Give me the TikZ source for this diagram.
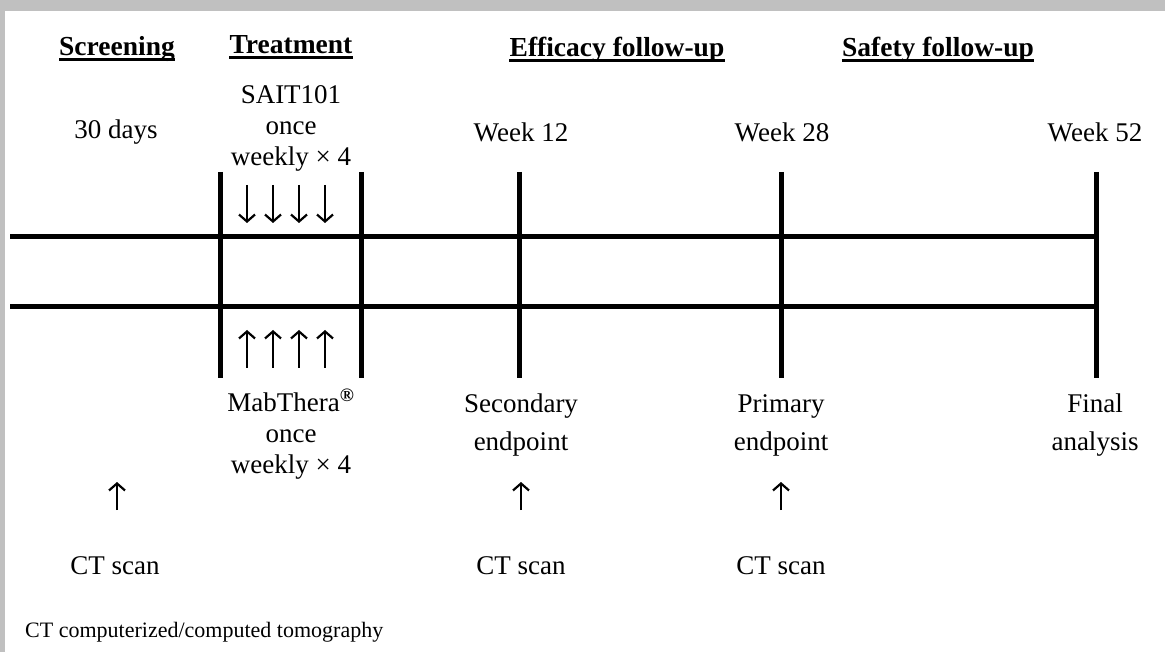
\documentclass[tikz,border=0pt]{standalone}
\usepackage{fontspec}
\setmainfont{Liberation Serif}
\usetikzlibrary{arrows.meta}
\definecolor{frame}{RGB}{192,192,192}
\begin{document}
\begin{tikzpicture}[x=1pt,y=-1pt,
  txt/.style={font=\fontsize{27}{31}\selectfont, inner sep=0pt, align=center, anchor=base},
  wide/.style={font=\fontsize{27}{38}\selectfont},
  head/.style={font=\fontsize{27.5}{31}\selectfont\bfseries, inner sep=0pt, anchor=base},
  foot/.style={font=\fontsize{22}{26}\selectfont, inner sep=0pt, anchor=base west},
  bar/.style={line width=5pt},
  uline/.style={line width=2.2pt},
  glyph/.style={line width=1.3pt, -{Straight Barb[length=7pt,width=16pt,line width=2.2pt]}},
]
\fill[white] (0,0) rectangle (1165,652);
\fill[frame] (0,0) rectangle (1165,11);
\fill[frame] (0,0) rectangle (5,652);
\useasboundingbox (0,0) rectangle (1165,652);

% headings
\node[head] (hs) at (117,56) {Screening};
\node[head] (ht) at (291,54) {Treatment};
\node[head] (he) at (617,57) {Efficacy follow-up};
\node[head] (hf) at (938,57) {Safety follow-up};
\foreach \h in {hs,ht,he,hf}
  \draw[uline] ([yshift=-3.5pt]\h.base west) -- ([yshift=-3.5pt]\h.base east);

% timeline
\coordinate (l1s) at (10,237); \coordinate (l1e) at (1098,237);
\coordinate (l2s) at (10,307); \coordinate (l2e) at (1098,307);
\draw[bar] (l1s) -- (l1e);
\draw[bar] (l2s) -- (l2e);
\foreach \x/\n in {220/b1,361/b2,519/b3,781/b4,1096/b5}{
  \coordinate (\n t) at (\x,172); \coordinate (\n b) at (\x,378);
  \draw[bar] (\n t) -- (\n b);
}

% dosing arrows
\foreach \x in {247,273,299,325}{
  \draw[glyph] (\x,185) -- (\x,223);
  \draw[glyph] (\x,368) -- (\x,330);
}

% top texts
\node[txt] (d30) at (116,139) {30 days};
\node[txt] (sait) at (291,166) {SAIT101\\once\\weekly × 4};
\node[txt] (w12) at (521,142) {Week 12};
\node[txt] (w28) at (782,142) {Week 28};
\node[txt] (w52) at (1095,142) {Week 52};

% bottom texts
\node[txt] (mab) at (291,473) {MabThera\textsuperscript{\textbf{®}}\\once\\weekly × 4};
\node[txt,wide] (sec) at (521,450) {Secondary\\endpoint};
\node[txt,wide] (pri) at (781,450) {Primary\\endpoint};
\node[txt,wide] (fin) at (1095,450) {Final\\analysis};

% CT scans
\node[txt] (ct1) at (115,574) {CT scan};
\node[txt] (ct2) at (521,574) {CT scan};
\node[txt] (ct3) at (781,574) {CT scan};
\foreach \c/\x in {ct1/117,ct2/521,ct3/781}
  \draw[glyph,line width=1.1pt] (\x,510) -- (\x,482);

\node[foot] (fn) at (25,637) {CT computerized/computed tomography};
\end{tikzpicture}
\end{document}
